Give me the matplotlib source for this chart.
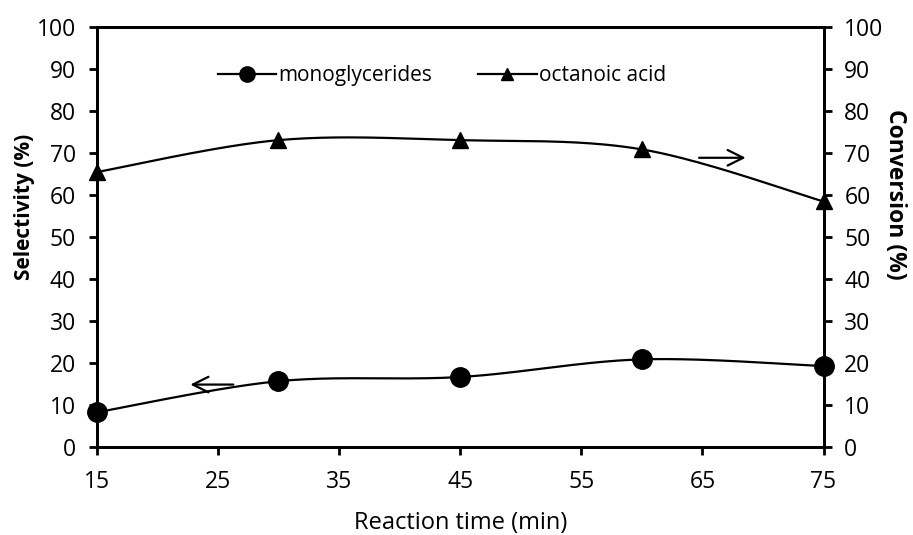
import numpy as np
import matplotlib.pyplot as plt

time_min = [15, 30, 45, 60, 75]
monoglycerides = [8.2, 15.6, 16.6, 20.8, 19.2]
octanoic_acid = [65.4, 73.0, 73.0, 70.8, 58.4]


def smooth(x, y, n=40):
    # Excel-style smoothed line: cubic Bezier through points (Catmull-Rom tangents)
    x = np.asarray(x, float)
    y = np.asarray(y, float)
    px = np.concatenate([[x[0]], x, [x[-1]]])
    py = np.concatenate([[y[0]], y, [y[-1]]])
    xs, ys = [], []
    t = np.linspace(0, 1, n)
    for i in range(1, len(x)):
        p0 = np.array([px[i], py[i]])
        p3 = np.array([px[i + 1], py[i + 1]])
        p1 = p0 + (np.array([px[i + 1], py[i + 1]]) - np.array([px[i - 1], py[i - 1]])) / 6
        p2 = p3 - (np.array([px[i + 2], py[i + 2]]) - np.array([px[i], py[i]])) / 6
        b = ((1 - t) ** 3)[:, None] * p0 + (3 * (1 - t) ** 2 * t)[:, None] * p1 \
            + (3 * (1 - t) * t ** 2)[:, None] * p2 + (t ** 3)[:, None] * p3
        xs.extend(b[:, 0])
        ys.extend(b[:, 1])
    return xs, ys


plt.rcParams["font.family"] = ["Open Sans", "DejaVu Sans"]

fig, ax = plt.subplots(figsize=(9.13, 5.35), dpi=100)
fig.subplots_adjust(left=0.106, right=0.902, top=0.95, bottom=0.165)
ax2 = ax.twinx()

sx, sy = smooth(time_min, monoglycerides)
ax.plot(sx, sy, color="black", lw=1.6)
ax.plot(time_min, monoglycerides, "o", color="black", ms=14, clip_on=False, zorder=5)
ax.plot([], [], "-o", color="black", lw=1.6, ms=11, label="monoglycerides")

sx, sy = smooth(time_min, octanoic_acid)
ax2.plot(sx, sy, color="black", lw=1.6)
ax2.plot(time_min, octanoic_acid, "^", color="black", ms=11, clip_on=False, zorder=5)
ax.plot([], [], "-^", color="black", lw=1.6, ms=9, label="octanoic acid")

# arrows pointing each curve to its axis
ax.annotate("", xy=(22.5, 14.8), xytext=(26.5, 14.8),
            arrowprops=dict(arrowstyle="->", lw=1.6, color="black", mutation_scale=28))
ax2.annotate("", xy=(68.8, 68.8), xytext=(64.5, 68.8),
             arrowprops=dict(arrowstyle="->", lw=1.6, color="black", mutation_scale=28))

for a in (ax, ax2):
    a.set_ylim(0, 100)
    a.set_yticks(range(0, 101, 10))
    a.tick_params(labelsize=16.5, width=2, length=6, pad=9)
    for s in a.spines.values():
        s.set_linewidth(2)
ax.tick_params(axis="x", pad=11)
ax.set_xlim(15, 75)
ax.set_xticks(range(15, 76, 10))

ax.set_ylabel("Selectivity (%)", fontsize=15, fontweight="bold")
ax.yaxis.set_label_coords(-0.085, 0.57)
ax2.set_ylabel("Conversion (%)", fontsize=16.5, fontweight="bold", rotation=270)
ax2.yaxis.set_label_coords(1.115, 0.6)
ax.set_xlabel("Reaction time (min)", fontsize=17, labelpad=12)

ax.legend(loc="center", bbox_to_anchor=(0.475, 0.883), ncol=2, frameon=False,
          fontsize=15, handlelength=2.8, handletextpad=0.1, columnspacing=2.2)

fig.savefig("out.png", dpi=100)
